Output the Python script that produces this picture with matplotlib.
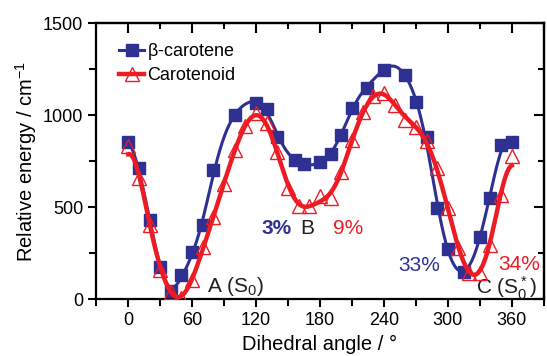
import numpy as np
import matplotlib
matplotlib.use("Agg")
import matplotlib.pyplot as plt

plt.rcParams['font.family'] = ['Liberation Sans', 'DejaVu Sans']
plt.rcParams['mathtext.fontset'] = 'custom'
plt.rcParams['mathtext.rm'] = 'Liberation Sans'
plt.rcParams['mathtext.it'] = 'Liberation Sans'

# beta-carotene (squares)
bc_angle = [0, 10, 20, 30, 40, 50, 60, 70, 80, 100, 120, 130, 140, 157, 165,
            180, 190, 200, 210, 224, 240, 260, 270, 280, 290, 300, 315, 330,
            340, 350, 360]
bc_energy = [853, 712, 430, 174, 45, 128, 258, 405, 700, 1000, 1065, 1035, 880,
             755, 735, 745, 790, 890, 1040, 1150, 1245, 1220, 1070, 880, 495,
             272, 145, 337, 549, 837, 853]

# carotenoid (triangles)
car_angle = [0, 10, 20, 30, 40, 50, 60, 70, 80, 90, 100, 110, 120, 130, 140,
             150, 160, 170, 180, 190, 200, 210, 220, 230, 240, 250, 260, 270,
             280, 290, 300, 310, 320, 330, 340, 350, 360]
car_energy = [830, 660, 400, 160, 40, 8, 105, 285, 446, 625, 810, 940, 1010,
              958, 800, 605, 505, 505, 560, 550, 690, 862, 1016, 1105, 1120,
              1055, 975, 935, 860, 710, 497, 277, 140, 140, 293, 565, 775]

blue = '#2e3192'
red = '#ed1c24'


def smooth_fit(x, y, order, lam, xs):
    # cosine/sine series plus a linear drift, with a roughness penalty
    def basis(a):
        t = np.radians(np.asarray(a, dtype=float))
        cols = [np.ones_like(t), t / np.pi - 1]
        for k in range(1, order + 1):
            cols.append(np.cos(k * t))
            cols.append(np.sin(k * t))
        return np.column_stack(cols)
    A = basis(x)
    pen = [0.0, 0.0] + [float(k) ** 4 for k in range(1, order + 1) for _ in (0, 1)]
    P = lam * np.diag(pen)
    c = np.linalg.solve(A.T @ A + P, A.T @ np.asarray(y, dtype=float))
    return basis(xs) @ c


xs = np.linspace(0, 360, 500)
bc_fit = smooth_fit(bc_angle, bc_energy, 14, 1.5e-3, xs)
car_fit = smooth_fit(car_angle, car_energy, 12, 3e-3, xs)

fig = plt.figure(figsize=(5.47, 3.56), dpi=100)
ax = fig.add_axes([0.176, 0.16, 0.818, 0.775])

ax.plot(xs, bc_fit, color=blue, lw=2.2, zorder=2)
ax.plot(bc_angle, bc_energy, ls='none', marker='s', ms=8.5, color=blue, zorder=3)
ax.plot(xs, car_fit, color=red, lw=3.2, zorder=4)
ax.plot(car_angle, car_energy, ls='none', marker='^', ms=9.5, mfc='none',
        mec=red, mew=1.0, zorder=5)

# legend handles
h1, = ax.plot([], [], color=blue, lw=2.2, marker='s', ms=8.5, label=r'$\beta$-carotene')
h2, = ax.plot([], [], color=red, lw=3.2, marker='^', ms=9.5, mfc='none',
              mec=red, label='Carotenoid')
ax.legend(handles=[h1, h2], loc='upper left', frameon=False, fontsize=13,
          handlelength=1.4, handletextpad=0.15, borderaxespad=0.0,
          labelspacing=0.25, bbox_to_anchor=(0.035, 0.96))

ax.set_xlim(-30, 390)
ax.set_ylim(0, 1500)
ax.set_xticks([0, 60, 120, 180, 240, 300, 360])
ax.set_xticks(np.arange(-30, 391, 30), minor=True)
ax.set_yticks([0, 500, 1000, 1500])
ax.set_yticks([250, 750, 1250], minor=True)
ax.tick_params(which='both', direction='out', width=1.5, labelsize=13,
               top=False, right=False)
ax.tick_params(which='major', length=6)
ax.tick_params(which='minor', length=5)
for s in ax.spines.values():
    s.set_linewidth(1.6)

top = ax.secondary_xaxis('top')
top.set_xticks([0, 60, 120, 180, 240, 300, 360])
top.set_xticks(np.arange(-30, 391, 30), minor=True)
top.tick_params(which='both', direction='in', width=1.5, labeltop=False)
top.tick_params(which='major', length=7)
top.tick_params(which='minor', length=4)
top.spines['top'].set_linewidth(1.6)

rgt = ax.secondary_yaxis('right')
rgt.set_yticks([0, 500, 1000, 1500])
rgt.set_yticks([250, 750, 1250], minor=True)
rgt.tick_params(which='both', direction='in', width=1.5, labelright=False)
rgt.tick_params(which='major', length=7)
rgt.tick_params(which='minor', length=4)
rgt.spines['right'].set_linewidth(1.6)

ax.set_xlabel('Dihedral angle / °', fontsize=14.5, labelpad=4)
ax.set_ylabel('Relative energy / cm$^{-1}$', fontsize=14.5, labelpad=3)

ax.text(74, 70, r'A (S$_0$)', fontsize=15, color='#231f20', va='center', ha='left')
ax.text(139, 386, '3%', fontsize=15, color=blue, fontweight='bold', va='center', ha='center')
ax.text(168, 386, 'B', fontsize=15, color='#231f20', va='center', ha='center')
ax.text(206, 386, '9%', fontsize=15, color=red, va='center', ha='center')
ax.text(273, 185, '33%', fontsize=15, color=blue, va='center', ha='center')
ax.text(367, 190, '34%', fontsize=15, color=red, va='center', ha='center')
ax.text(355, 58, r'C (S$_0^*$)', fontsize=15, color='#231f20', va='center', ha='center')

fig.savefig('out.png', dpi=100)
